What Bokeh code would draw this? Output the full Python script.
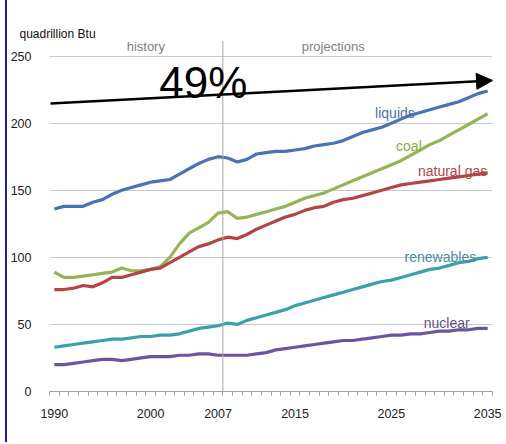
from bokeh.plotting import figure
from bokeh.models import (Range1d, FixedTicker, Label, Span, Arrow, NormalHead,
                          ColumnDataSource)
from bokeh.embed import file_html
from bokeh.resources import INLINE

years = list(range(1990, 2036))
liquids = [136, 138, 138, 138, 141, 143, 147, 150, 152, 154, 156, 157, 158, 162, 166, 170,
           173, 175, 174, 171, 173, 177, 178, 179, 179, 180, 181, 183, 184, 185, 187, 190,
           193, 195, 197, 200, 203, 206, 208, 210, 212, 214, 216, 219, 222, 224]
coal = [89, 85, 85, 86, 87, 88, 89, 92, 90, 90, 91, 93, 100, 110, 118, 122,
        126, 133, 134, 129, 130, 132, 134, 136, 138, 141, 144, 146, 148, 151, 154, 157,
        160, 163, 166, 169, 172, 176, 180, 184, 187, 191, 195, 199, 203, 207]
natural_gas = [76, 76, 77, 79, 78, 81, 85, 85, 87, 89, 91, 92, 96, 100, 104, 108,
               110, 113, 115, 114, 117, 121, 124, 127, 130, 132, 135, 137, 138, 141, 143, 144,
               146, 148, 150, 152, 154, 155, 156, 157, 158, 159, 160, 161, 162, 163]
renewables = [33, 34, 35, 36, 37, 38, 39, 39, 40, 41, 41, 42, 42, 43, 45, 47,
              48, 49, 51, 50, 53, 55, 57, 59, 61, 64, 66, 68, 70, 72, 74, 76,
              78, 80, 82, 83, 85, 87, 89, 91, 92, 94, 96, 97, 99, 100]
nuclear = [20, 20, 21, 22, 23, 24, 24, 23, 24, 25, 26, 26, 26, 27, 27, 28,
           28, 27, 27, 27, 27, 28, 29, 31, 32, 33, 34, 35, 36, 37, 38, 38,
           39, 40, 41, 42, 42, 43, 43, 44, 45, 45, 46, 46, 47, 47]

x_tick_labels = [1990, 2000, 2007, 2015, 2025, 2035]
y_ticks = [0, 50, 100, 150, 200, 250]
history_end = 2007.5
growth_label = "49%"
unit_label = "quadrillion Btu"

FONT = "Liberation Sans"

src = ColumnDataSource(dict(year=years, liquids=liquids, coal=coal, gas=natural_gas,
                            ren=renewables, nuc=nuclear))

p = figure(width=497, height=442, output_backend="svg", toolbar_location=None,
           title=unit_label,
           x_range=Range1d(1989.5, 2035.5), y_range=Range1d(0, 261.6),
           min_border_left=40, min_border_right=12, min_border_top=40, min_border_bottom=51)
p.styles = {"border-left": "2px solid #1c1c9c", "margin-left": "5px"}
p.outline_line_color = None
p.background_fill_color = "white"
p.border_fill_color = "white"

p.title.align = "left"
p.title.offset = -30
p.title.standoff = 0
p.title.text_font = FONT
p.title.text_font_size = "12px"
p.title.text_font_style = "normal"
p.title.text_color = "#111111"

# axes
p.xaxis.ticker = FixedTicker(ticks=x_tick_labels,
                             minor_ticks=[y + 0.5 for y in range(1989, 2036)])
p.xaxis.major_tick_out = 0
p.xaxis.major_tick_in = 0
p.xaxis.minor_tick_out = 4
p.xaxis.minor_tick_in = 0
p.xaxis.minor_tick_line_color = "#a0a0a0"
p.xaxis.axis_line_color = "#a0a0a0"
p.xaxis.major_label_standoff = 13
p.xaxis.major_label_text_font = FONT
p.xaxis.major_label_text_font_size = "12.5px"
p.xaxis.major_label_text_color = "#222222"

p.yaxis.ticker = FixedTicker(ticks=y_ticks)
p.yaxis.axis_line_color = None
p.yaxis.major_tick_line_color = None
p.yaxis.minor_tick_line_color = None
p.yaxis.major_label_standoff = 12
p.yaxis.major_label_text_font = FONT
p.yaxis.major_label_text_font_size = "12.5px"
p.yaxis.major_label_text_color = "#222222"

p.xgrid.grid_line_color = None
p.ygrid.grid_line_color = "#c8c8c8"
p.ygrid.grid_line_width = 1

p.add_layout(Span(location=history_end, dimension="height", line_color="#a8a8a8",
                  line_width=1))

series = [
    ("liquids", "#4674B7"),
    ("coal", "#94B456"),
    ("gas", "#B54545"),
    ("ren", "#3AA0AC"),
    ("nuc", "#6B55A0"),
]
for col, color in series:
    p.line("year", col, source=src, line_color=color, line_width=3.2)

# series labels
lbls = [
    ("liquids", 2025.37, 207.2, "center", "#4F70AC"),
    ("coal", 2026.82, 182.8, "center", "#8BAA4E"),
    ("natural gas", 2034.95, 164.7, "right", "#B04646"),
    ("renewables", 2030.09, 100.6, "center", "#4A8CA8"),
    ("nuclear", 2030.74, 50.9, "center", "#65508E"),
]
for t, x, y, al, c in lbls:
    p.add_layout(Label(x=x, y=y, text=t, text_align=al, text_baseline="alphabetic",
                       text_font=FONT, text_font_size="14px", text_color=c))

p.add_layout(Label(x=1999.5, y=256.8, text="history", text_align="center",
                   text_baseline="middle", text_font=FONT, text_font_size="13px",
                   text_color="#808080"))
p.add_layout(Label(x=2018.96, y=256.8, text="projections", text_align="center",
                   text_baseline="middle", text_font=FONT, text_font_size="13px",
                   text_color="#808080"))

# growth arrow
p.add_layout(Arrow(x_start=1989.6, y_start=214.6, x_end=2035.5, y_end=231.8,
                   line_color="black", line_width=2.5,
                   end=NormalHead(size=16, fill_color="black", line_color="black")))
p.add_layout(Label(x=2005.47, y=230.3, text=growth_label, text_align="center",
                   text_baseline="alphabetic", text_font=FONT,
                   text_font_size="44px", text_color="black"))

open("out.html", "w").write(file_html(p, INLINE))
